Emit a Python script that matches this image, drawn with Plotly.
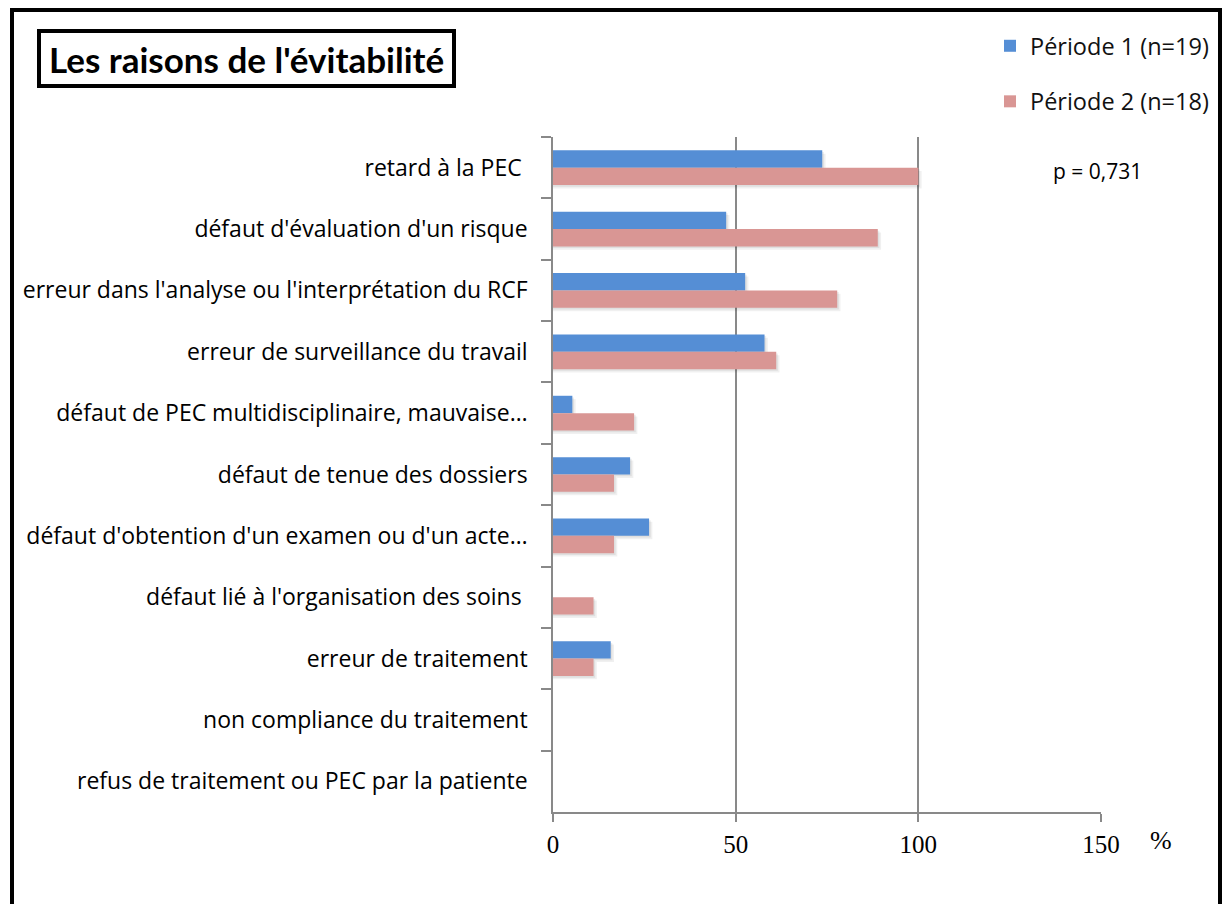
import plotly.graph_objects as go

# Reasons for avoidability, percentage of cases in each period
categories = [
    "retard à la PEC\u00a0",
    "défaut d'évaluation d'un risque",
    "erreur dans l'analyse ou l'interprétation du RCF",
    "erreur de surveillance du travail",
    "défaut de PEC multidisciplinaire, mauvaise…",
    "défaut de tenue des dossiers",
    "défaut d'obtention d'un examen ou d'un acte…",
    "défaut lié à l'organisation des soins\u00a0",
    "erreur de traitement",
    "non compliance du traitement",
    "refus de traitement ou PEC par la patiente",
]
periode1 = [73.7, 47.4, 52.6, 57.9, 5.3, 21.1, 26.3, 0, 15.8, 0, 0]
periode2 = [100, 88.9, 77.8, 61.1, 22.2, 16.7, 16.7, 11.1, 11.1, 0, 0]
x_ticks = [0, 50, 100, 150]

W, H = 1223, 904
ML, MR, MT, MB = 553, 122, 137, 92
PW, PH = W - ML - MR, H - MT - MB


def px(x):
    return (x - ML) / PW


def py(y):
    return 1 - (y - MT) / PH


BLUE = "#558ED5"
RED = "#D99694"
GRID = "#898989"
SANS = "Open Sans"
BAR_W = 0.283

fig = go.Figure()

# soft drop shadows under the bars
for vals, off in ((periode1, -BAR_W), (periode2, 0.0)):
    for shift, alpha in ((0.9, 0.06), (0.45, 0.07)):
        fig.add_trace(go.Bar(
            y=categories, x=[v + shift if v else 0 for v in vals], orientation="h",
            width=BAR_W, offset=off + 0.055 * shift / 0.9,
            marker=dict(color=f"rgba(0,0,0,{alpha})", line_width=0),
            showlegend=False, hoverinfo="skip",
        ))

fig.add_trace(go.Bar(
    y=categories, x=periode1, orientation="h", name="Période 1 (n=19)",
    width=BAR_W, offset=-BAR_W, marker=dict(color=BLUE, line_width=0),
    legendgroup="p1",
))
fig.add_trace(go.Bar(
    y=categories, x=periode2, orientation="h", name="Période 2 (n=18)",
    width=BAR_W, offset=0.0, marker=dict(color=RED, line_width=0),
    legendgroup="p2",
))

fig.update_layout(
    width=W, height=H,
    margin=dict(l=ML, r=MR, t=MT, b=MB, pad=0, autoexpand=False),
    paper_bgcolor="white", plot_bgcolor="white",
    barmode="overlay",
    font=dict(family=SANS, color="black"),
    legend=dict(
        xref="container", yref="container",
        x=990 / W, y=1 - 24 / H, xanchor="left", yanchor="top",
        font=dict(family=SANS, size=23.5, color="#111111"),
        traceorder="grouped", tracegroupgap=22,
        bgcolor="rgba(0,0,0,0)", borderwidth=0, itemwidth=30,
    ),
    xaxis=dict(
        range=[0, 150], tickvals=x_ticks, showgrid=True, gridcolor=GRID, gridwidth=1.5,
        zeroline=False, showline=True, linecolor=GRID, linewidth=1.5,
        ticks="outside", ticklen=8, tickcolor=GRID, tickwidth=1.5,
        tickfont=dict(family="Liberation Serif", size=25, color="black"),
        ticklabelstandoff=1, automargin=False,
    ),
    yaxis=dict(
        type="category", autorange="reversed", showgrid=False, zeroline=False,
        showline=True, linecolor=GRID, linewidth=1.5,
        ticks="outside", ticklen=10, tickcolor=GRID, tickwidth=1.5, tickson="boundaries",
        tickfont=dict(family=SANS, size=23, color="black"),
        ticklabelstandoff=19, automargin=False,
    ),
    shapes=[
        # outer frame
        dict(type="rect", xref="paper", yref="paper", x0=px(12), x1=px(1220), y0=py(912), y1=py(10),
             line=dict(color="black", width=4), layer="above"),
        # title box
        dict(type="rect", xref="paper", yref="paper", x0=px(39), x1=px(454), y0=py(86), y1=py(31),
             line=dict(color="black", width=4)),
    ],
    annotations=[
        dict(text="<b>Les raisons de l'évitabilité</b>", xref="paper", yref="paper",
             x=px(246.5), y=py(59), xanchor="center", yanchor="middle", showarrow=False,
             font=dict(family="Lato", size=35, color="black")),
        dict(text="p = 0,731", xref="paper", yref="paper", x=px(1051), y=py(171),
             xanchor="left", yanchor="middle", showarrow=False,
             font=dict(family=SANS, size=21, color="black")),
        dict(text="%", xref="paper", yref="paper", x=px(1161), y=py(840),
             xanchor="center", yanchor="middle", showarrow=False,
             font=dict(family="Liberation Serif", size=26, color="black")),
    ],
)

fig.write_html("out.html")
